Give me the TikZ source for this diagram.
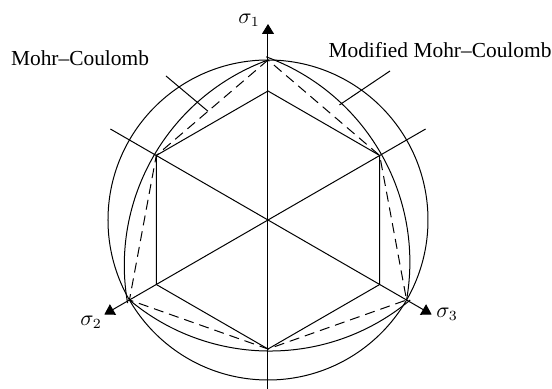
\documentclass[tikz,border=0pt]{standalone}
\usepackage{fontspec}
\setmainfont{Liberation Serif}
\usetikzlibrary{arrows.meta, calc}

\begin{document}
\begin{tikzpicture}[x=0.5pt, y=0.5pt, line width=0.5pt,
    lbl/.style={font=\fontsize{10.7}{13}\selectfont, inner sep=0pt},
    axis/.style={-{Triangle[width=6pt, length=5pt]}},
    mcline/.style={dashed, dash pattern=on 5pt off 3pt}]

    \useasboundingbox (-268,-169) rectangle (284,220);

    % Vertices on the principal axes
    \coordinate (O) at (0,0);
    \foreach \a/\n in {90/1, 210/2, 330/3} {
        \coordinate (A\n) at (\a:160);      % outer (compression) points
        \coordinate (C\n) at (\a:129);      % inner hexagon points
        \coordinate (B\n) at (\a+180:129);  % tension points
    }

    % Axes
    \coordinate (s1end) at (0,-169);
    \coordinate (s1tip) at (0,196);
    \coordinate (s2end) at (30:182);
    \coordinate (s2tip) at (210:189);
    \coordinate (s3end) at (150:182);
    \coordinate (s3tip) at (330:189);
    \draw[axis] (s1end) -- (s1tip);
    \draw[axis] (s2end) -- (s2tip);
    \draw[axis] (s3end) -- (s3tip);
    \node[lbl] (s1lbl) at (-19,200) {$\sigma_1$};
    \node[lbl] (s2lbl) at (-177,-102) {$\sigma_2$};
    \node[lbl] (s3lbl) at (179,-94) {$\sigma_3$};

    % Outer circle
    \draw (O) circle (160);

    % Inner hexagon
    \draw (C1) -- (B3) -- (C2) -- (B1) -- (C3) -- (B2) -- cycle;

    % Mohr-Coulomb hexagon (dashed)
    \draw[mcline] (A1) -- (B3) -- (A2) -- (B1) -- (A3) -- (B2) -- cycle;

    % Modified Mohr-Coulomb arcs
    \draw (A1) arc[start angle=110.04, end angle=189.96, radius=218.6];
    \draw (A2) arc[start angle=230.04, end angle=309.96, radius=218.6];
    \draw (A3) arc[start angle=-9.96, end angle=69.96, radius=218.6];

    % Labels
    \node[lbl] (mc) at (-188,162) {Mohr--Coulomb};
    \node[lbl] (mmc) at (172,170) {Modified Mohr--Coulomb};
    \coordinate (mcpt) at ($(A1)!0.537!(B3)$);
    \coordinate (mmcpt) at ($(210:89.6)+(47:218.6)$);
    \draw (-102,144) -- (mcpt);
    \draw (122,149) -- (mmcpt);

\end{tikzpicture}
\end{document}
